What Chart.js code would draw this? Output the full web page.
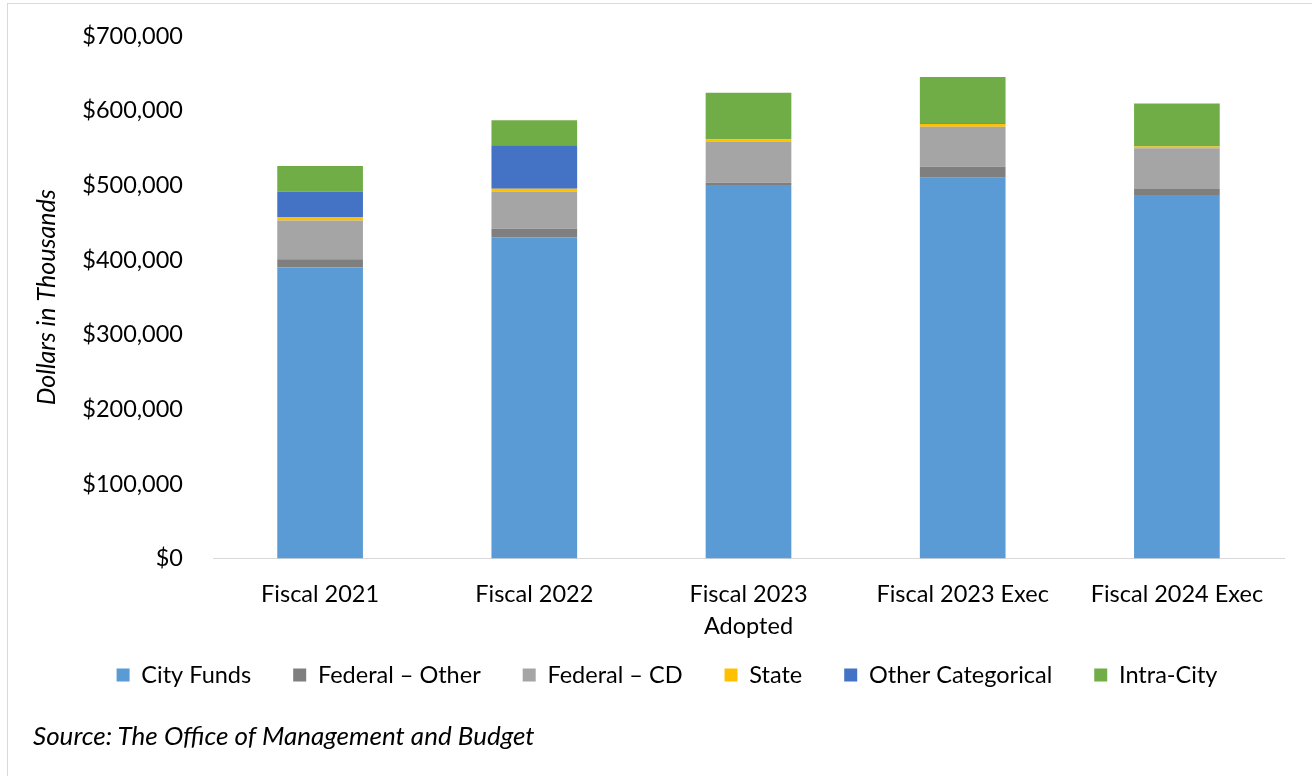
<!DOCTYPE html>
<html>
<head>
<meta charset="utf-8">
<script src="https://cdn.jsdelivr.net/npm/chart.js@4.4.1/dist/chart.umd.min.js"></script>
<style>
  body { margin: 0; background: #fff; }
  #wrap { position: relative; width: 1312px; height: 776px; overflow: hidden; }
  #frame { position: absolute; left: 7px; top: 3px; right: -2px; bottom: -2px; border-left: 1px solid #d9d9d9; border-top: 1px solid #d9d9d9; }
  #source { position: absolute; left: 33px; top: 719px; font: italic 26px Lato, sans-serif; color: #000; }
  canvas { position: absolute; left: 0; top: 0; }
</style>
</head>
<body>
<div id="wrap">
  <div id="frame"></div>
  <canvas id="budget-chart" width="1312" height="776"></canvas>
  <div id="source">Source: The Office of Management and Budget</div>
</div>
<script>
const categories = ["Fiscal 2021", "Fiscal 2022", ["Fiscal 2023", "Adopted"], "Fiscal 2023 Exec", "Fiscal 2024 Exec"];
const cityFunds = [390000, 430500, 500400, 510200, 487100];
const federalOther = [11000, 11500, 3100, 14700, 8000];
const federalCD = [52000, 49800, 55200, 53800, 54700];
const state = [4500, 3600, 3100, 3500, 2200];
const otherCategorical = [34000, 58200, 0, 1000, 0];
const intraCity = [34500, 33800, 62200, 62100, 57800];
const yTicks = [0, 100000, 200000, 300000, 400000, 500000, 600000, 700000];

const font = "Lato, sans-serif";
const legendTextY = 675;
const legendOffsetX = 15;

function series(label, values, color) {
  return {
    label: label,
    data: values,
    backgroundColor: color,
    borderWidth: 0,
    categoryPercentage: 1,
    barPercentage: 0.4
  };
}

// legend label padding also sets the vertical gap, so pull the legend up a bit
const legendNudge = {
  id: 'legendNudge',
  afterLayout(chart) {
    const lg = chart.legend;
    const opts = lg.options.labels;
    const shift = lg.top - (legendTextY - opts.padding - opts.font.size / 2);
    lg.top -= shift;
    lg.bottom -= shift;
    lg.left += legendOffsetX;
    lg.right += legendOffsetX;
  }
};

function initChart() {
  const ctx = document.getElementById("budget-chart");
  const data = {
    labels: categories,
    datasets: [
      series("City Funds", cityFunds, "#5B9BD5"),
      series("Federal \u2013 Other", federalOther, "#7F7F7F"),
      series("Federal \u2013 CD", federalCD, "#A5A5A5"),
      series("State", state, "#FFC000"),
      series("Other Categorical", otherCategorical, "#4472C4"),
      series("Intra-City", intraCity, "#70AD47")
    ]
  };
  const config = {
    type: 'bar',
    data: data,
    plugins: [legendNudge],
    options: {
      responsive: false,
      animation: false,
      layout: {
        padding: { top: 9, right: 28, bottom: 46, left: 20 }
      },
      plugins: {
        tooltip: { enabled: false },
        legend: {
          position: 'bottom',
          labels: {
            boxWidth: 13,
            boxHeight: 13,
            padding: 42,
            color: '#000',
            font: { family: font, size: 23.5 }
          }
        }
      },
      scales: {
        x: {
          stacked: true,
          grid: { display: false },
          border: { display: true, color: '#d9d9d9', width: 1 },
          ticks: {
            color: '#000',
            padding: 12,
            maxRotation: 0,
            autoSkip: false,
            font: { family: font, size: 23.5, lineHeight: 1.36 }
          }
        },
        y: {
          stacked: true,
          min: 0,
          max: 700000,
          afterFit: function(scale) { scale.width = 193; },
          afterBuildTicks: function(scale) {
            scale.ticks = yTicks.map(v => ({ value: v }));
          },
          grid: { display: false },
          border: { display: false },
          title: {
            display: true,
            text: 'Dollars in Thousands',
            color: '#000',
            padding: { top: 12, bottom: 0 },
            font: { family: font, size: 25, style: 'italic' }
          },
          ticks: {
            color: '#000',
            padding: 22,
            font: { family: font, size: 23.5 },
            callback: function(v) { return '$' + v.toLocaleString('en-US'); }
          }
        }
      }
    }
  };
  return new Chart(ctx, config);
}

const barChart = initChart();
</script>
</body>
</html>
